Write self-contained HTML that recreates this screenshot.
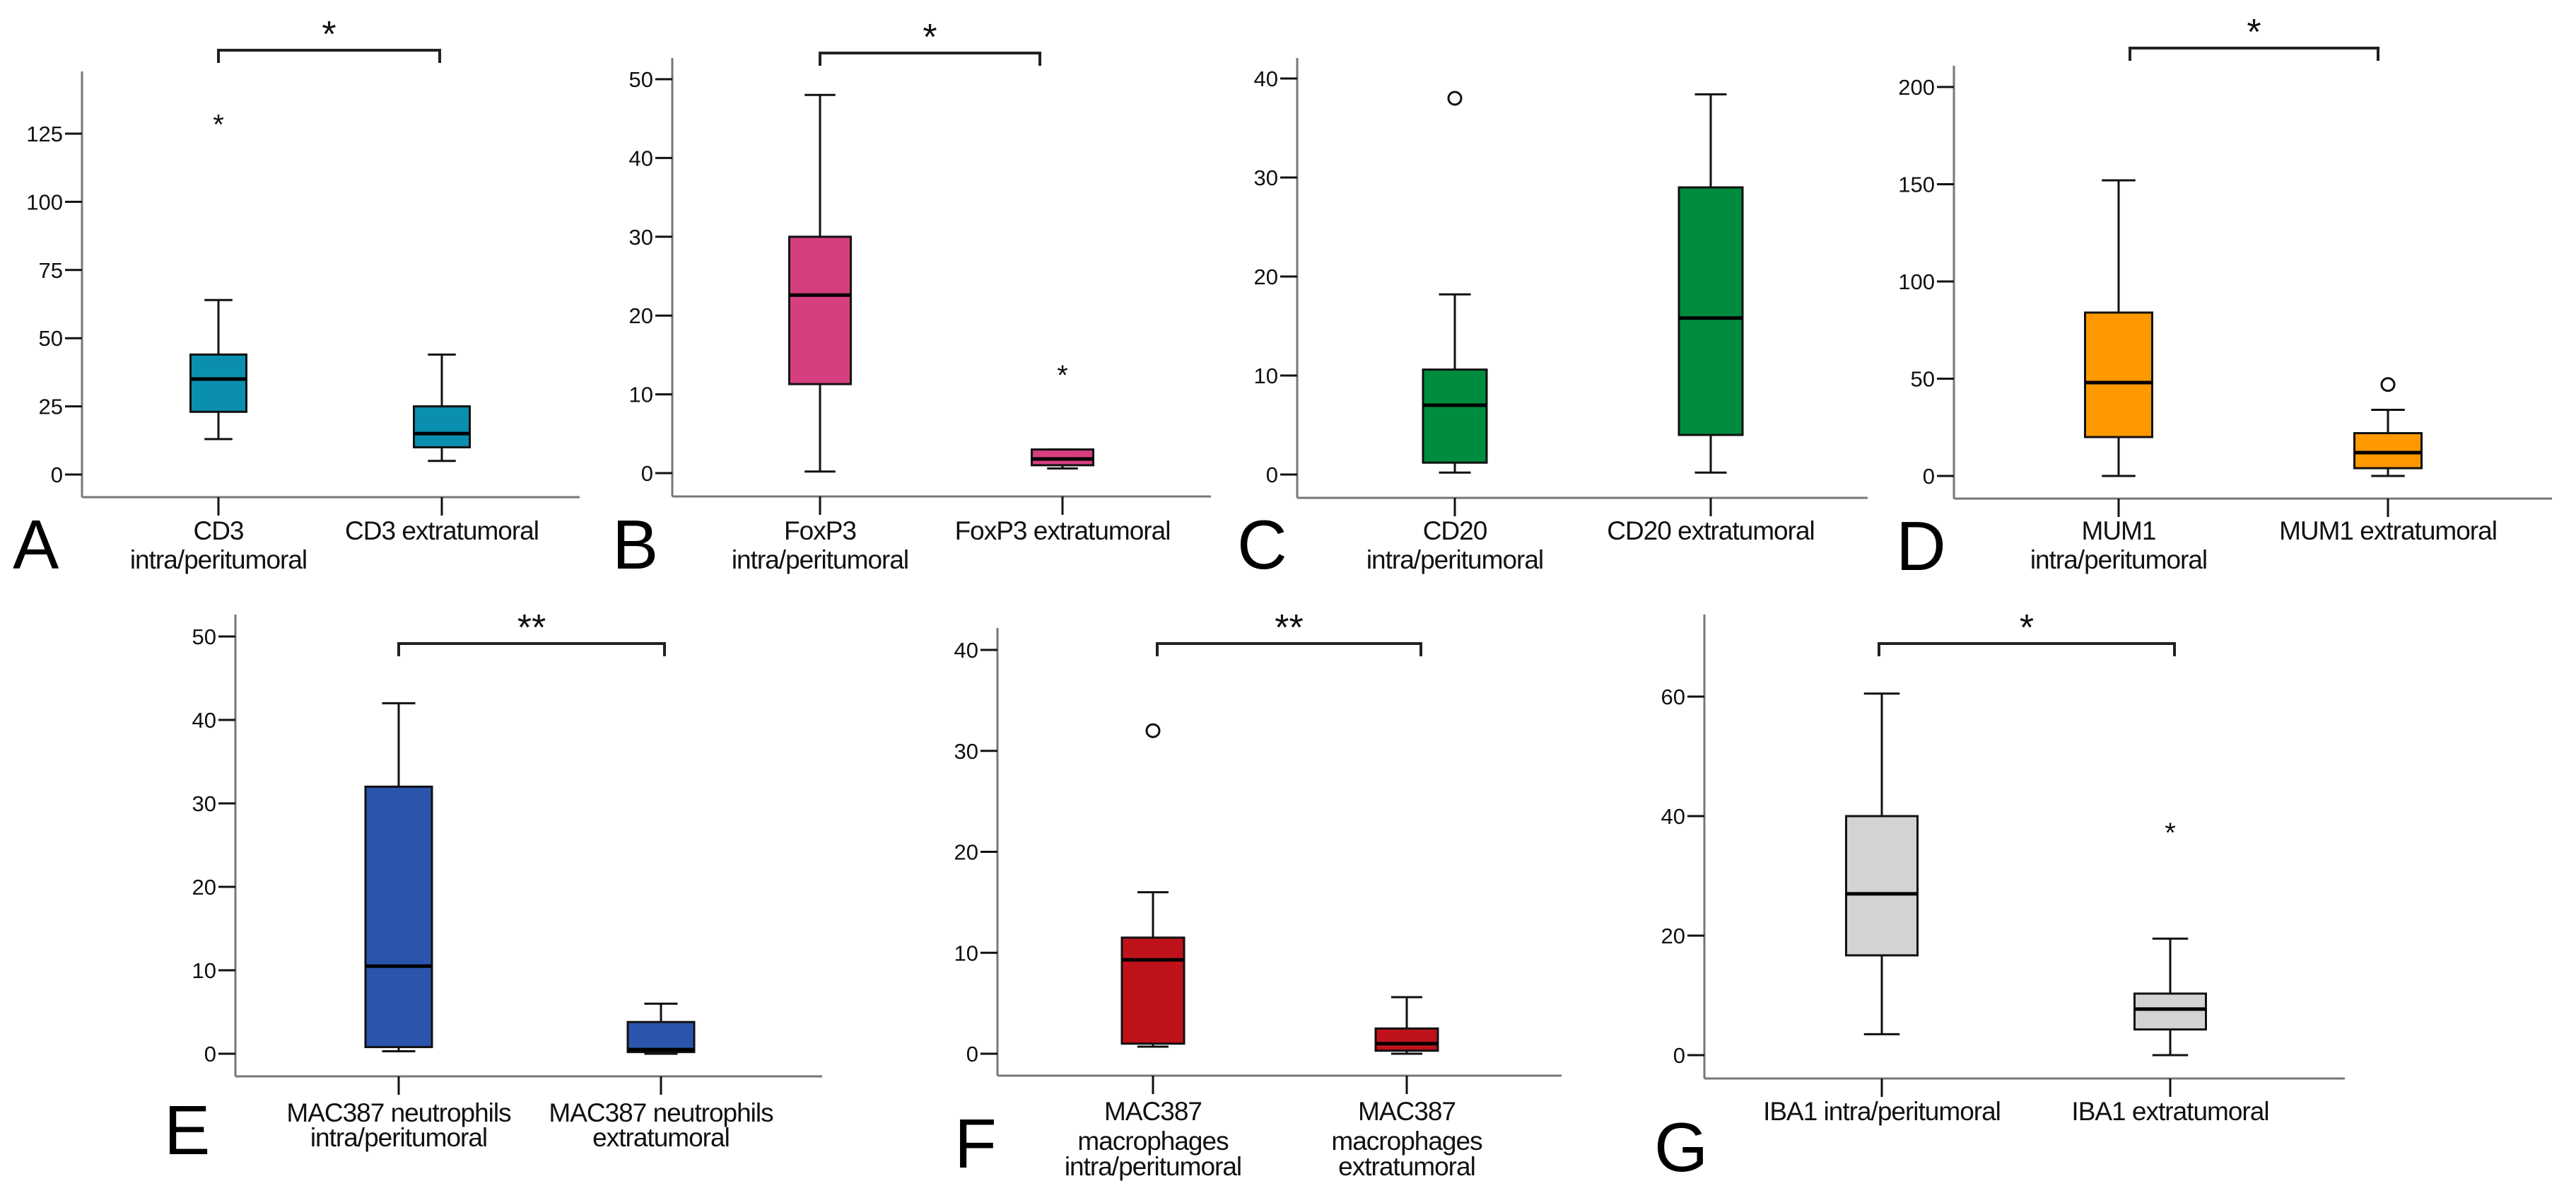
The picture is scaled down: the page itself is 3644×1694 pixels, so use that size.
<!DOCTYPE html>
<html><head><meta charset="utf-8"><style>
html,body{margin:0;padding:0;background:#fff;}
svg{display:block;font-family:"Liberation Sans",Arial,sans-serif;}
</style></head><body>
<svg id="fig" width="3644" height="1694" viewBox="0 0 3644 1694" xmlns="http://www.w3.org/2000/svg"></svg>
<script>
// ---- data: [min, q1, median, q3, max] per group ----
const cd3Intra = [13, 23, 35, 44, 64];
const cd3Extra = [5, 10, 15, 25, 44];
const cd3Outliers = [[0, 130, 'star']];
const cd3Ticks = [0, 25, 50, 75, 100, 125];

const foxIntra = [0.2, 11.3, 22.6, 30, 48];
const foxExtra = [0.6, 1, 1.8, 3, 3];
const foxOutliers = [[1, 13, 'star']];
const foxTicks = [0, 10, 20, 30, 40, 50];

const cd20Intra = [0.2, 1.2, 7, 10.6, 18.2];
const cd20Extra = [0.2, 4, 15.8, 29, 38.4];
const cd20Outliers = [[0, 38, 'circle']];
const cd20Ticks = [0, 10, 20, 30, 40];

const mumIntra = [0, 20, 48, 84, 152];
const mumExtra = [0, 4, 12, 22, 34];
const mumOutliers = [[1, 47, 'circle']];
const mumTicks = [0, 50, 100, 150, 200];

const neuIntra = [0.3, 0.8, 10.5, 32, 42];
const neuExtra = [0, 0.2, 0.5, 3.8, 6];
const neuOutliers = [];
const neuTicks = [0, 10, 20, 30, 40, 50];

const macIntra = [0.7, 1, 9.3, 11.5, 16];
const macExtra = [0, 0.3, 1, 2.5, 5.6];
const macOutliers = [[0, 32, 'circle']];
const macTicks = [0, 10, 20, 30, 40];

const ibaIntra = [3.5, 16.7, 27, 40, 60.5];
const ibaExtra = [0, 4.3, 7.7, 10.3, 19.5];
const ibaOutliers = [[1, 38, 'star']];
const ibaTicks = [0, 20, 40, 60];

const NS = 'http://www.w3.org/2000/svg';
const svg = document.getElementById('fig');
function mk(tag, attrs, parent) {
  const e = document.createElementNS(NS, tag);
  for (const k in attrs) e.setAttribute(k, attrs[k]);
  (parent || svg).appendChild(e);
  return e;
}

const panels = [
 {id:'a', letter:'A', lx:18, ly:804, color:'#0a8fb0', ax:116, top:101, xy:703, right:820, y0:671, tv:125, ty:189, cats:[309,625], bw:79, ticks:cd3Ticks, groups:[cd3Intra,cd3Extra], out:cd3Outliers, br:[309,622,71,'*'], labels:[['CD3','intra/peritumoral'],['CD3 extratumoral']], lb:[763,804]},
 {id:'b', letter:'B', lx:866, ly:804, color:'#d63f7f', ax:951, top:82, xy:702, right:1713, y0:669, tv:50, ty:112, cats:[1160,1503], bw:87, ticks:foxTicks, groups:[foxIntra,foxExtra], out:foxOutliers, br:[1160,1471,75,'*'], labels:[['FoxP3','intra/peritumoral'],['FoxP3 extratumoral']], lb:[763,804]},
 {id:'c', letter:'C', lx:1750, ly:804, color:'#008c3e', ax:1835, top:82, xy:704, right:2642, y0:671, tv:40, ty:111, cats:[2058,2420], bw:90, ticks:cd20Ticks, groups:[cd20Intra,cd20Extra], out:cd20Outliers, br:null, labels:[['CD20','intra/peritumoral'],['CD20 extratumoral']], lb:[763,804]},
 {id:'d', letter:'D', lx:2682, ly:806, color:'#ff9900', ax:2764, top:93, xy:705, right:3610, y0:673, tv:200, ty:123, cats:[2997,3378], bw:95, ticks:mumTicks, groups:[mumIntra,mumExtra], out:mumOutliers, br:[3013,3364,68,'*'], labels:[['MUM1','intra/peritumoral'],['MUM1 extratumoral']], lb:[763,804]},
 {id:'e', letter:'E', lx:232, ly:1632, color:'#2b55ad', ax:333, top:869, xy:1522, right:1163, y0:1490, tv:50, ty:900, cats:[564,935], bw:94, ticks:neuTicks, groups:[neuIntra,neuExtra], out:neuOutliers, br:[564,940,910,'**'], labels:[['MAC387 neutrophils','intra/peritumoral'],['MAC387 neutrophils','extratumoral']], lb:[1586,1621]},
 {id:'f', letter:'F', lx:1350, ly:1651, color:'#c0121a', ax:1411, top:888, xy:1521, right:2209, y0:1490, tv:40, ty:919, cats:[1631,1990], bw:88, ticks:macTicks, groups:[macIntra,macExtra], out:macOutliers, br:[1637,2010,910,'**'], labels:[['MAC387','macrophages','intra/peritumoral'],['MAC387','macrophages','extratumoral']], lb:[1584,1626,1662]},
 {id:'g', letter:'G', lx:2340, ly:1656, color:'#d3d3d3', ax:2411, top:869, xy:1525, right:3317, y0:1492, tv:60, ty:985, cats:[2662,3070], bw:101, ticks:ibaTicks, groups:[ibaIntra,ibaExtra], out:ibaOutliers, br:[2658,3076,910,'*'], labels:[['IBA1 intra/peritumoral'],['IBA1 extratumoral']], lb:[1584]}
];

panels.forEach(p => {
  const g = mk('g', {});
  
  
  const k = (p.y0 - p.ty) / p.tv;
  const Y = v => p.y0 - v * k;
  // axes
  const yax = mk('line', {x1:p.ax, y1:p.top, x2:p.ax, y2:p.xy, stroke:'#777', 'stroke-width':3}, g);
  
  
  const xax = mk('line', {x1:p.ax, y1:p.xy, x2:p.right, y2:p.xy, stroke:'#777', 'stroke-width':3}, g);
  
  
  p.ticks.forEach(t => {
    mk('line', {x1:p.ax-24, y1:Y(t), x2:p.ax, y2:Y(t), stroke:'#111', 'stroke-width':3}, g);
    const tl = mk('text', {x:p.ax-27, y:Y(t)+11, 'font-size':31, 'text-anchor':'end', fill:'#111'}, g);
    tl.textContent = t;
    
    
  });
  // boxes
  p.groups.forEach((s, i) => {
    const cx = p.cats[i], hw = p.bw/2, cw = p.bw/4;
    mk('line', {x1:cx, y1:p.xy, x2:cx, y2:p.xy+26, stroke:'#111', 'stroke-width':3}, g);
    mk('line', {x1:cx, y1:Y(s[0]), x2:cx, y2:Y(s[4]), stroke:'#111', 'stroke-width':3}, g);
    mk('line', {x1:cx-cw, y1:Y(s[0]), x2:cx+cw, y2:Y(s[0]), stroke:'#111', 'stroke-width':3}, g);
    mk('line', {x1:cx-cw, y1:Y(s[4]), x2:cx+cw, y2:Y(s[4]), stroke:'#111', 'stroke-width':3}, g);
    const b = mk('rect', {x:cx-hw, y:Y(s[3]), width:p.bw, height:Math.max(1, Y(s[1])-Y(s[3])), fill:p.color, stroke:'#111', 'stroke-width':3}, g);
    
    
    mk('line', {x1:cx-hw, y1:Y(s[2]), x2:cx+hw, y2:Y(s[2]), stroke:'#000', 'stroke-width':5}, g);
    // labels
    p.labels[i].forEach((ln, j) => {
      const t = mk('text', {x:cx, y:p.lb[j], 'font-size':37, 'text-anchor':'middle', fill:'#111', 'letter-spacing':'-1'}, g);
      t.textContent = ln;
      
      
    });
  });
  // outliers
  p.out.forEach(o => {
    const cx = p.cats[o[0]], y = Y(o[1]);
    if (o[2] === 'circle') {
      const c = mk('circle', {cx:cx, cy:y, r:9, fill:'#fff', stroke:'#111', 'stroke-width':3}, g);
      
      
    } else {
      const t = mk('text', {x:cx, y:y+20, 'font-size':40, 'text-anchor':'middle', fill:'#111'}, g);
      t.textContent = '*';
      
      
    }
  });
  // significance bracket
  if (p.br) {
    const [x1, x2, by, sym] = p.br;
    const br = mk('path', {d:`M${x1},${by+18} V${by} H${x2} V${by+18}`, fill:'none', stroke:'#222', 'stroke-width':4}, g);
    
    
    const st = mk('text', {x:(x1+x2)/2, y:by-5, 'font-size':52, 'text-anchor':'middle', fill:'#111'}, g);
    st.textContent = sym;
    
    
  }
  const L = mk('text', {x:p.lx, y:p.ly, 'font-size':98, fill:'#000'}, g);
  L.textContent = p.letter;
  
  
});
</script>
</body></html>
